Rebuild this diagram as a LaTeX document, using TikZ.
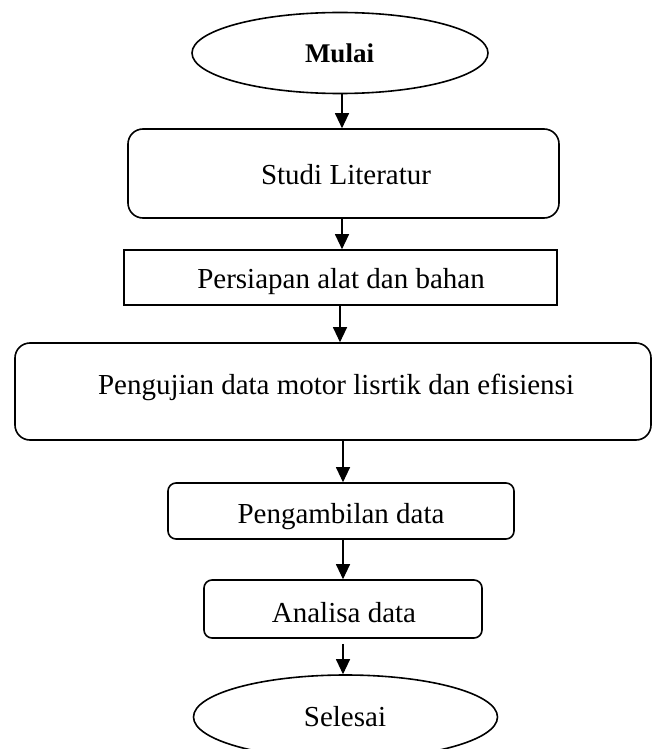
\documentclass[tikz,border=0pt]{standalone}
\usepackage{fontspec}
\setmainfont{Liberation Serif}
\usetikzlibrary{shapes.geometric,arrows.meta}
\tikzset{
  box/.style={draw=black, line width=1.6pt, inner sep=0pt},
  rbox/.style={box, rounded corners=#1},
  oval/.style={draw=black, line width=1.6pt, ellipse, inner sep=0pt},
  txt/.style={anchor=base, inner sep=0pt, font=\fontsize{29}{33}\selectfont},
  arr/.style={line width=1.1pt, -{Triangle[width=14pt,length=15pt]}},
}
\begin{document}
\begin{tikzpicture}[x=1pt,y=-1pt]
\useasboundingbox (0,0) rectangle (651,749);
% shapes
\node[oval, minimum width=296, minimum height=81] (m) at (340,53) {};
\node[rbox=15pt, minimum width=431, minimum height=89] (s) at (343.5,173.5) {};
\node[box, minimum width=433, minimum height=55] (p) at (340.5,277.5) {};
\node[rbox=15pt, minimum width=636, minimum height=97] (u) at (333,391.5) {};
\node[rbox=8pt, minimum width=346, minimum height=56] (g) at (341,511) {};
\node[rbox=8pt, minimum width=278, minimum height=58] (a) at (343,609) {};
\node[oval, minimum width=304, minimum height=84] (e) at (345.5,717) {};
% texts
\node[txt, font=\fontsize{27}{31}\selectfont\bfseries] (mt) at (339.5,63) {Mulai};
\node[txt] (st) at (346,184) {Studi Literatur};
\node[txt] (pt) at (341,288) {Persiapan alat dan bahan};
\node[txt] (ut) at (336,394) {Pengujian data motor lisrtik dan efisiensi};
\node[txt] (gt) at (341,523) {Pengambilan data};
\node[txt] (at) at (344,622) {Analisa data};
\node[txt] (et) at (345,726) {Selesai};
% connector guides
\coordinate (x1) at (342,0);
\coordinate (x3) at (340,0);
\coordinate (x4) at (343,0);
% connectors
\draw[arr] (m.south -| x1) -- (s.north -| x1);
\draw[arr] (s.south -| x1) -- (p.north -| x1);
\draw[arr] (p.south -| x3) -- (u.north -| x3);
\draw[arr] (u.south -| x4) -- (g.north -| x4);
\draw[arr] (g.south -| x4) -- (a.north -| x4);
\draw[arr] ([yshift=-5pt]a.south -| x4) -- (e.north -| x4);
\end{tikzpicture}
\end{document}
